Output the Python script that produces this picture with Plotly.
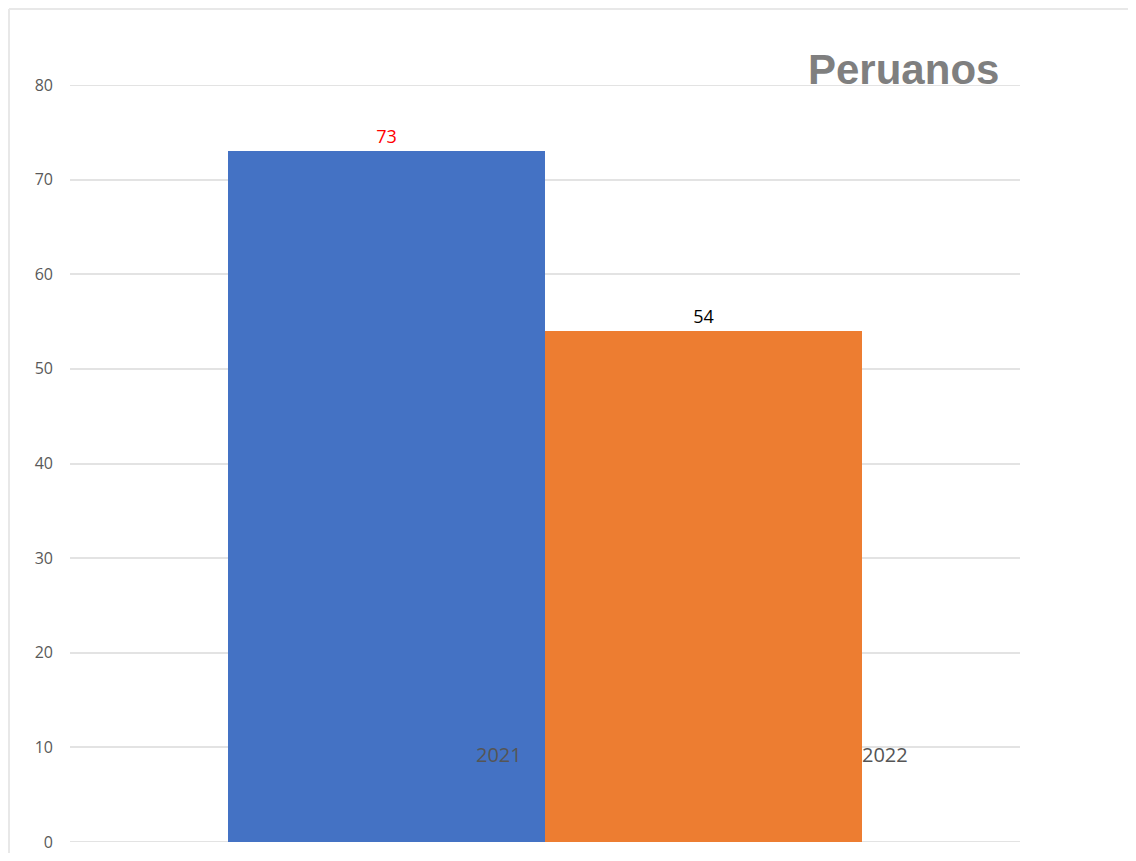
import plotly.graph_objects as go

years = ["2021", "2022"]
values = [73, 54]
bar_colors = ["#4472C4", "#ED7D31"]
label_colors = ["#FF0000", "#000000"]
yticks = [0, 10, 20, 30, 40, 50, 60, 70, 80]
title_text = "Peruanos"

# numeric positions for the two adjacent bars
xpos = list(range(len(years)))

fig = go.Figure()
fig.add_trace(go.Bar(
    x=xpos, y=values, width=1.0,
    marker=dict(color=bar_colors, line=dict(width=0)),
    text=[str(v) for v in values], textposition="outside",
    textfont=dict(family="Open Sans, Arial", size=18, color=label_colors),
    cliponaxis=False, hoverinfo="skip",
))

# category labels placed near the bar bottoms (as in the reference)
label_offsets = [0.355, 0.573]
for i, (yr, off) in enumerate(zip(years, label_offsets)):
    fig.add_annotation(x=xpos[i] + off, y=9.2, text=yr, showarrow=False,
                       font=dict(family="Open Sans, Arial", size=20, color="#555555"),
                       xanchor="center", yanchor="middle")

fig.add_annotation(xref="paper", yref="paper", x=0.98, y=0.987, text="<b>" + title_text + "</b>",
                   showarrow=False, xanchor="right", yanchor="bottom",
                   font=dict(family="Arial, Liberation Sans", size=42, color="#7F7F7F"))

# edge gridlines at 0 and 80
for yv in (yticks[0], yticks[-1]):
    fig.add_shape(type="line", xref="paper", yref="y", x0=0, x1=1, y0=yv, y1=yv,
                  line=dict(color="#E3E3E3", width=2), layer="below")

# outer frame lines (top and left)
fig.add_shape(type="line", xref="paper", yref="paper", x0=-0.0642, x1=1.2, y0=1.1004, y1=1.1004,
              line=dict(color="#E8E8E8", width=2))
fig.add_shape(type="line", xref="paper", yref="paper", x0=-0.0642, x1=-0.0642, y0=-0.03, y1=1.1004,
              line=dict(color="#E8E8E8", width=2))

fig.update_layout(
    width=1120, height=845,
    margin=dict(l=62, r=108, t=77, b=11, autoexpand=False),
    paper_bgcolor="white", plot_bgcolor="white",
    showlegend=False,
    bargap=0,
    xaxis=dict(range=[-1.0, 2.0], showticklabels=False, showgrid=False, zeroline=False,
               showline=False, ticks="", automargin=False),
    yaxis=dict(range=[0, 80], tickvals=yticks, showgrid=True, gridcolor="#E3E3E3", gridwidth=2,
               zeroline=False, showline=False, ticks="", ticklabelstandoff=16, automargin=False,
               tickfont=dict(family="Open Sans, Arial", size=16, color="#595959")),
)

fig.write_html("out.html")
